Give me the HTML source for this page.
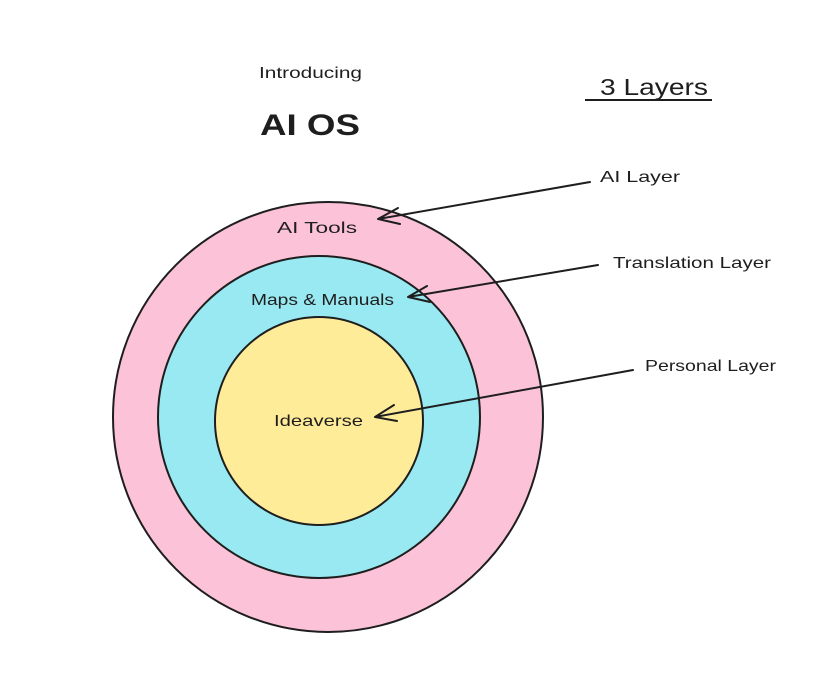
<!DOCTYPE html>
<html><head><meta charset="utf-8"><style>
html,body{margin:0;padding:0;background:#fff;}
svg{display:block}
text{font-family:"Liberation Sans",sans-serif;fill:#1e1e1e;}
</style></head><body>
<svg width="828" height="679" viewBox="0 0 828 679" xmlns="http://www.w3.org/2000/svg">
<rect width="828" height="679" fill="#fff"/>
<circle cx="328" cy="417" r="215" fill="#fcc2d7" stroke="#1e1e1e" stroke-width="2"/>
<circle cx="319" cy="417" r="161" fill="#99e9f2" stroke="#1e1e1e" stroke-width="2"/>
<circle cx="319" cy="421" r="104" fill="#ffec99" stroke="#1e1e1e" stroke-width="2"/>
<text x="259" y="78" font-size="16" textLength="103" lengthAdjust="spacingAndGlyphs">Introducing</text>
<text x="260" y="135" font-size="30" font-weight="bold" textLength="100" lengthAdjust="spacingAndGlyphs">AI OS</text>
<text x="600" y="95" font-size="23" textLength="108" lengthAdjust="spacingAndGlyphs">3 Layers</text>
<line x1="585" y1="100" x2="712" y2="100" stroke="#1e1e1e" stroke-width="2"/>
<text x="277" y="233" font-size="16" textLength="80" lengthAdjust="spacingAndGlyphs">AI Tools</text>
<text x="251" y="305" font-size="16" textLength="143" lengthAdjust="spacingAndGlyphs">Maps &amp; Manuals</text>
<text x="274" y="426" font-size="16" textLength="89" lengthAdjust="spacingAndGlyphs">Ideaverse</text>
<text x="600" y="182" font-size="16" textLength="80" lengthAdjust="spacingAndGlyphs">AI Layer</text>
<text x="613" y="268" font-size="16" textLength="158" lengthAdjust="spacingAndGlyphs">Translation Layer</text>
<text x="645" y="371" font-size="16" textLength="131" lengthAdjust="spacingAndGlyphs">Personal Layer</text>
<g stroke="#1e1e1e" stroke-width="2" fill="none" stroke-linecap="round">
<path d="M590 182 L378 219 M378 219 L398 208 M378 219 L400 224"/>
<path d="M598 265 L408 297 M408 297 L427 286 M408 297 L430 302"/>
<path d="M633 370 L375 417 M375 417 L394 405 M375 417 L397 421"/>
</g>
</svg>
</body></html>
